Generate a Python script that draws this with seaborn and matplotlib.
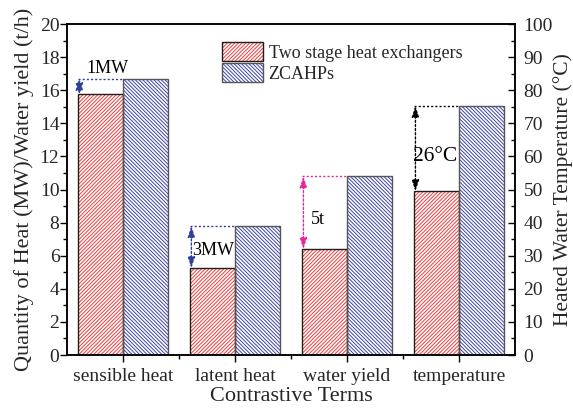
import matplotlib
matplotlib.use("Agg")
import matplotlib.pyplot as plt
from matplotlib.patches import Patch, Rectangle
from matplotlib.legend_handler import HandlerTuple
from matplotlib.ticker import MultipleLocator, FixedLocator
import seaborn as sns
import pandas as pd

# ---- data ----
terms = ["sensible heat", "latent heat", "water yield", "temperature"]
series = ["Two stage heat exchangers", "ZCAHPs"]
two_stage = [15.75, 5.25, 6.4]          # MW, MW, t/h
zcahps = [16.7, 7.8, 10.8]              # MW, MW, t/h
temp_two_stage = 49.5                   # °C
temp_zcahps = 75.3                      # °C
gap_labels = ["1MW", "3MW", "5t", "26°C"]

left_max, right_max = 20, 100
scale = left_max / right_max            # °C -> left-axis units

sns.set_theme(style="white")
plt.rcParams["font.family"] = ["Liberation Serif", "DejaVu Serif"]
plt.rcParams["hatch.linewidth"] = 0.7

rows = []
for t, a, b in zip(terms[:3], two_stage, zcahps):
    rows.append((t, series[0], a))
    rows.append((t, series[1], b))
rows.append((terms[3], series[0], temp_two_stage * scale))
rows.append((terms[3], series[1], temp_zcahps * scale))
df = pd.DataFrame(rows, columns=["term", "series", "value"])

hatch_cols = {series[0]: "#f03a3a", series[1]: "#3a44a6"}
edge_cols = {series[0]: "#1e1e1e", series[1]: "#555555"}
hatches = {series[0]: "/" * 9, series[1]: "\\" * 9}

fig, ax = plt.subplots(figsize=(5.73, 4.09), dpi=100)
fig.subplots_adjust(left=0.117, right=0.899, top=0.941, bottom=0.132)

sns.barplot(data=df, x="term", y="value", hue="series", order=terms,
            hue_order=series, palette=hatch_cols, width=0.8, gap=0,
            legend=False, ax=ax)

# hatched fills drawn in series colour, outlines added separately
n = len(terms)
for k, p in enumerate(ax.patches[:2 * n]):
    s = series[k // n]
    p.set_facecolor("white")
    p.set_edgecolor(hatch_cols[s])
    p.set_linewidth(0)
    p.set_hatch(hatches[s])
    ax.add_patch(Rectangle(p.get_xy(), p.get_width(), p.get_height(),
                           fill=False, ec=edge_cols[s], lw=1.0, zorder=3))

ax.set_xlim(-0.5, 3.5)
ax.set_ylim(0, left_max)
ax.yaxis.set_major_locator(MultipleLocator(2))
ax.yaxis.set_minor_locator(MultipleLocator(1))
ax.xaxis.set_minor_locator(FixedLocator([0.5, 1.5, 2.5]))
ax.tick_params(axis="y", which="major", direction="out", length=5, width=1,
               labelsize=14, left=True, color="black", pad=0.5)
ax.tick_params(axis="y", which="minor", direction="out", length=3, width=1,
               left=True, color="black")
ax.tick_params(axis="x", which="major", direction="out", length=5, width=1,
               labelsize=14, bottom=True, color="black", pad=4)
ax.tick_params(axis="x", which="minor", direction="out", length=3, width=1,
               bottom=True, color="black")
for sp in ax.spines.values():
    sp.set_color("black")
    sp.set_linewidth(1.1)

ax.set_xlabel("Contrastive Terms", fontsize=16, labelpad=2)
ax.set_ylabel("Quantity of Heat (MW)/Water yield (t/h)", fontsize=16, labelpad=4)

ax2 = ax.twinx()
ax2.set_ylim(0, right_max)
ax2.yaxis.set_major_locator(MultipleLocator(10))
ax2.yaxis.set_minor_locator(MultipleLocator(5))
ax2.tick_params(axis="y", which="major", direction="in", length=5, width=1,
                labelsize=14, right=True, color="black", pad=6)
ax2.tick_params(axis="y", which="minor", direction="in", length=3, width=1,
                right=True, color="black")
ax2.set_ylabel("Heated Water Temperature (°C)", fontsize=15.5, labelpad=0)
for sp in ax2.spines.values():
    sp.set_color("black")
    sp.set_linewidth(1.1)

# gap annotations between the paired bars
low_vals = two_stage + [temp_two_stage * scale]
high_vals = zcahps + [temp_zcahps * scale]
ann_cols = ["#2f3d9c", "#2f3d9c", "#e8259a", "black"]
text_pos = [(-0.14, 17.3), (0.80, 6.3), (1.74, 8.2), (2.79, 12.0)]
text_size = [13, 13, 13, 15.5]
for i in range(n):
    xa = i - 0.39
    ax.plot([i - 0.4, i], [high_vals[i], high_vals[i]], ls=(0, (1.5, 1.5)),
            color=ann_cols[i], lw=1.0, zorder=4)
    ax.annotate("", xy=(xa, high_vals[i]), xytext=(xa, low_vals[i]),
                arrowprops=dict(arrowstyle="<|-|>,head_length=0.55,head_width=0.18",
                                color=ann_cols[i], lw=1.0, ls=(0, (1.5, 1.5)),
                                shrinkA=0, shrinkB=0), zorder=4)
    ax.text(text_pos[i][0], text_pos[i][1], gap_labels[i], ha="center",
            va="center", fontsize=text_size[i], color="black", zorder=5)

# legend keys: hatched fill with a dark outline on top
handles = [(Patch(facecolor="white", edgecolor=hatch_cols[s], hatch=hatches[s], lw=0),
            Patch(fill=False, edgecolor=edge_cols[s], lw=1.0)) for s in series]
ax.legend(handles, series, loc="upper left", bbox_to_anchor=(0.345, 0.945),
          frameon=False, fontsize=13, handlelength=2.3, handleheight=1.2,
          labelspacing=0.1, handletextpad=0.3, borderpad=0, borderaxespad=0,
          handler_map={tuple: HandlerTuple(ndivide=1, pad=0)})

fig.savefig("out.png", dpi=100)
